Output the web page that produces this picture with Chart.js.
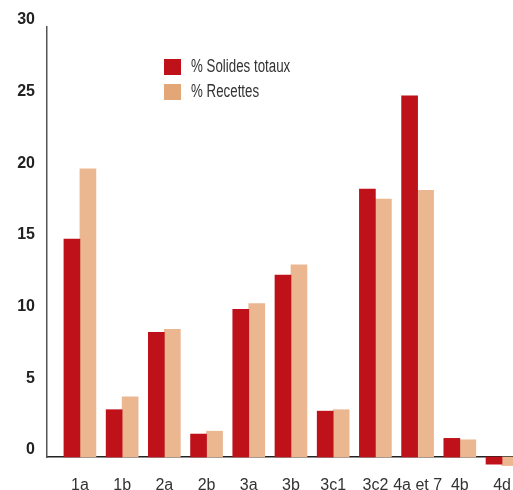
<!DOCTYPE html>
<html>
<head>
<meta charset="utf-8">
<script src="https://cdn.jsdelivr.net/npm/chart.js@4/dist/chart.umd.min.js"></script>
<style>
  html, body { margin: 0; padding: 0; background: #fff; overflow: hidden; }
  #wrap { position: relative; width: 513px; height: 490px; }
  #legend { position: absolute; left: 164px; top: 58px; font-family: "Liberation Sans", Arial, sans-serif; font-size: 18px; color: #333; }
  .item { display: flex; align-items: center; height: 17px; margin-bottom: 8px; }
  .box { width: 17px; height: 16px; margin-right: 10px; flex: none; }
  .txt { display: inline-block; transform: scaleX(0.74); transform-origin: left center; white-space: nowrap; }
</style>
</head>
<body>
<div id="wrap">
  <canvas id="chart" width="513" height="490"></canvas>
  <div id="legend"></div>
</div>
<script>
// Données du graphique
const categories = ['1a', '1b', '2a', '2b', '3a', '3b', '3c1', '3c2', '4a et 7', '4b', '4d'];
const solidesTotaux = [15.2, 3.3, 8.7, 1.6, 10.3, 12.7, 3.2, 18.7, 25.2, 1.3, -0.5];
const recettes = [20.1, 4.2, 8.9, 1.8, 10.7, 13.4, 3.3, 18.0, 18.6, 1.2, -0.6];
const yTicks = [0, 5, 10, 15, 20, 25, 30];

const red = '#BE1119';
const orange = '#EBB791';
const legendOrange = '#E3A676';

const toPoints = (values) => values.map((v, i) => ({ x: i, y: v }));

const ctx = document.getElementById('chart').getContext('2d');
const chart = new Chart(ctx, {
  type: 'bar',
  data: {
    datasets: [
      { label: '% Solides totaux', data: toPoints(solidesTotaux), backgroundColor: red, legendColor: red, barThickness: 16, clip: false },
      { label: '% Recettes', data: toPoints(recettes), backgroundColor: orange, legendColor: legendOrange, barThickness: 16, clip: false }
    ]
  },
  options: {
    responsive: false,
    animation: false,
    layout: { autoPadding: false, padding: { top: 27, left: 0, right: 0, bottom: 0 } },
    plugins: { legend: { display: false }, tooltip: { enabled: false } },
    scales: {
      x: {
        type: 'linear',
        offset: false,
        min: -0.78,
        max: 10.26,
        grid: { display: false, drawTicks: false, offset: false },
        border: { display: true, color: '#222', width: 1.5 },
        ticks: {
          stepSize: 1,
          includeBounds: false,
          autoSkip: false,
          maxRotation: 0,
          padding: 19,
          color: '#333',
          font: { family: '"Liberation Sans", Arial, sans-serif', size: 16 },
          callback: (value) => categories[value] ?? ''
        },
        afterFit: (scale) => { scale.height = 33; scale.paddingLeft = 0; scale.paddingRight = 0; }
      },
      y: {
        min: 0,
        max: 30,
        grid: { display: false, drawTicks: false },
        border: { display: true, color: '#555', width: 1.5 },
        afterBuildTicks: (scale) => { scale.ticks = yTicks.map(v => ({ value: v })); },
        ticks: {
          padding: 12,
          labelOffset: -7,
          color: '#222',
          font: { family: '"Liberation Sans", Arial, sans-serif', size: 16, weight: 'bold' }
        },
        afterFit: (scale) => { scale.width = 47; scale.paddingTop = 0; scale.paddingBottom = 0; }
      }
    }
  }
});

// Légende HTML (deux lignes empilées, comme l'original)
const legend = document.getElementById('legend');
chart.data.datasets.forEach(ds => {
  const item = document.createElement('div');
  item.className = 'item';
  item.innerHTML = `<span class="box" style="background:${ds.legendColor}"></span><span class="txt">${ds.label}</span>`;
  legend.appendChild(item);
});
</script>
</body>
</html>
